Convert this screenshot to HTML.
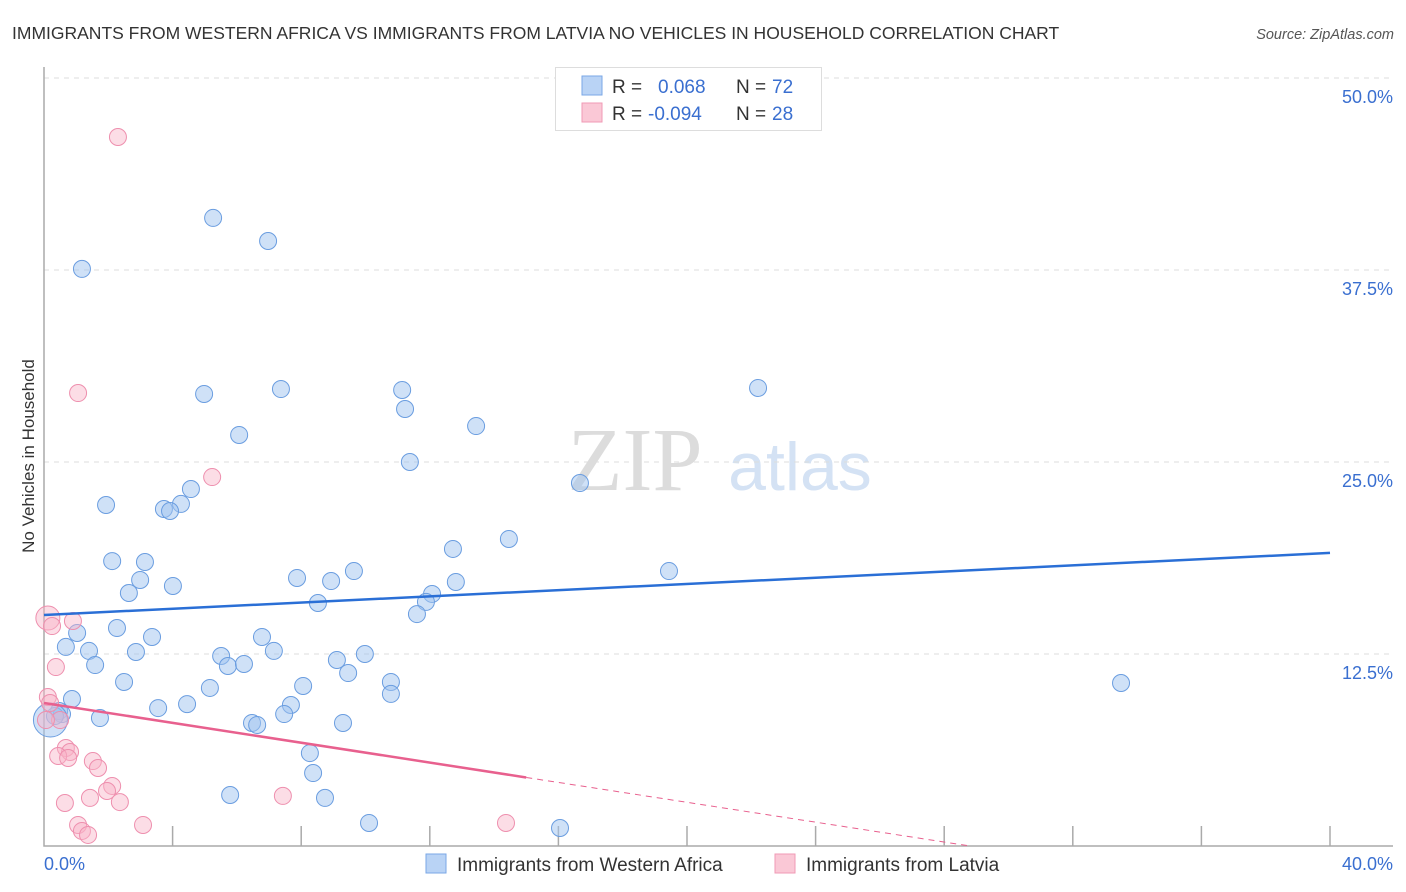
<!DOCTYPE html>
<html><head><meta charset="utf-8"><style>
body{margin:0;background:#fff;font-family:"Liberation Sans",sans-serif}
#wrap{position:relative;width:1406px;height:892px;overflow:hidden}
</style></head><body>
<div id="wrap">
<svg id="svg" width="1406" height="892" xmlns="http://www.w3.org/2000/svg">
<text x="12" y="39" font-size="17.5" fill="#333">IMMIGRANTS FROM WESTERN AFRICA VS IMMIGRANTS FROM LATVIA NO VEHICLES IN HOUSEHOLD CORRELATION CHART</text>
<text x="1394" y="39" font-size="14.5" fill="#555" font-style="italic" text-anchor="end">Source: ZipAtlas.com</text>
<text transform="translate(34,456) rotate(-90)" font-size="17" fill="#333" text-anchor="middle">No Vehicles in Household</text>
<g><text x="635" y="490" font-family="Liberation Serif,serif" font-size="90" fill="#dcdcdc" text-anchor="middle">ZIP</text><text x="800" y="490" font-size="68" fill="#d4e2f4" text-anchor="middle">atlas</text></g>
<g id="grid"></g><g id="axes"></g><g id="marks"></g>
<g>
<rect x="555.5" y="67.5" width="266" height="63" fill="#fff" stroke="#ddd"/>
<rect x="582" y="76" width="20" height="19" fill="#b9d3f5" stroke="#7aa7e6"/>
<rect x="582" y="103" width="20" height="19" fill="#fac8d6" stroke="#f09ab5"/>
<text x="612" y="93" font-size="19" fill="#333">R =</text><text x="658" y="93" font-size="19" fill="#3a6fd0">0.068</text>
<text x="736" y="93" font-size="19" fill="#333">N =</text><text x="772" y="93" font-size="19" fill="#3a6fd0">72</text>
<text x="612" y="120" font-size="19" fill="#333">R =</text><text x="648" y="120" font-size="19" fill="#3a6fd0">-0.094</text>
<text x="736" y="120" font-size="19" fill="#333">N =</text><text x="772" y="120" font-size="19" fill="#3a6fd0">28</text>
</g>
<g>
<rect x="426" y="854" width="20" height="19" fill="#b9d3f5" stroke="#7aa7e6"/>
<text x="457" y="871" font-size="19" fill="#333">Immigrants from Western Africa</text>
<rect x="775" y="854" width="20" height="19" fill="#fac8d6" stroke="#f09ab5"/>
<text x="806" y="871" font-size="19" fill="#333">Immigrants from Latvia</text>
</g>
</svg>
</div>
<script>
const xTicks=[0,4,8,12,16,20,24,28,32,36,40];
const yTicks=[12.5,25,37.5,50];
const yTickLabels=["12.5%","25.0%","37.5%","50.0%"];
const xTickLabels=["0.0%","40.0%"];
const blueX=[1.18,5.26,6.97,4.98,7.37,11.14,11.23,22.21,6.07,13.44,11.38,16.67,1.93,4.57,4.26,3.73,3.92,2.12,3.14,2.99,2.64,4.01,7.87,8.93,9.64,12.72,14.46,12.81,12.07,11.88,8.52,11.6,19.44,1.03,2.27,3.36,6.78,0.68,1.4,2.86,7.15,5.51,5.72,6.22,9.11,9.98,9.46,1.59,2.49,10.79,5.16,8.06,0.87,10.79,33.5,0.47,0.56,0.34,3.55,4.45,7.68,7.47,1.74,6.47,6.63,9.3,8.27,8.37,5.79,8.74,10.11,16.05];
const blueY=[37.57,40.89,39.39,29.43,29.75,29.69,28.45,29.82,26.76,27.34,25.0,23.63,22.2,23.24,22.27,21.94,21.81,18.55,18.49,17.32,16.47,16.93,17.45,17.25,17.9,19.34,19.99,17.19,16.41,15.89,15.82,15.1,17.9,13.87,14.19,13.61,13.61,12.96,12.7,12.63,12.7,12.37,11.72,11.85,12.11,12.5,11.26,11.78,10.68,10.68,10.29,10.42,9.57,9.9,10.61,8.79,8.59,8.46,8.98,9.24,9.18,8.59,8.33,8.01,7.88,8.01,6.05,4.75,3.32,3.13,1.5,1.17];
const pinkX=[2.3,1.06,5.23,0.12,0.25,0.9,0.37,0.12,0.19,0.5,0.68,0.81,0.44,0.75,1.52,1.68,2.12,1.96,1.43,0.65,2.36,7.43,1.06,1.18,1.37,3.08,14.37,0.06];
const pinkY=[46.16,29.49,24.02,14.84,14.32,14.65,11.65,9.7,9.31,8.2,6.38,6.12,5.86,5.73,5.53,5.08,3.91,3.58,3.13,2.8,2.86,3.26,1.37,0.98,0.72,1.37,1.5,8.2];
const blueTrend=[15.04,19.08];
const pinkTrend=[9.31,0];
const NS="http://www.w3.org/2000/svg";
const X0=44,X1=1330,Y0=846,YT=78;
const sx=v=>X0+v/40*(X1-X0);
const sy=v=>Y0-v/50*(Y0-YT);
function mk(tag,attrs,parent){const e=document.createElementNS(NS,tag);for(const k in attrs)e.setAttribute(k,attrs[k]);parent.appendChild(e);return e;}
const grid=document.getElementById('grid'),axes=document.getElementById('axes'),marks=document.getElementById('marks');
yTicks.forEach((t,i)=>{
 const g=mk('line',{x1:X0,x2:1393,y1:sy(t),y2:sy(t),stroke:'#ddd','stroke-dasharray':'5,5'},grid);
 
 
 const l=mk('text',{x:1393,y:sy(t)+25,'font-size':18,fill:'#3a6fd0','text-anchor':'end'},axes);
 l.textContent=yTickLabels[i];
 
 
});
const tl=mk('line',{x1:X0,x2:1393,y1:YT,y2:YT,stroke:'#ddd','stroke-dasharray':'5,5'},grid);


const ax=mk('path',{d:`M${X0},67V${Y0}H1393`,fill:'none',stroke:'#aaa','stroke-width':1.5},axes);


xTicks.forEach(t=>{if(t===0)return;
 const e=mk('line',{x1:sx(t),x2:sx(t),y1:826,y2:Y0,stroke:'#aaa','stroke-width':1.5},axes);
 
 
});
const xl0=mk('text',{x:44,y:870,'font-size':18,fill:'#3a6fd0'},axes);xl0.textContent=xTickLabels[0];


const xl1=mk('text',{x:1393,y:870,'font-size':18,fill:'#3a6fd0','text-anchor':'end'},axes);xl1.textContent=xTickLabels[1];


blueX.forEach((x,i)=>{
 const c=mk('circle',{cx:sx(x),cy:sy(blueY[i]),r:8.5,fill:'rgba(160,196,240,0.5)',stroke:'#6a9de0','stroke-width':1},marks);
 
 
});
const big=mk('circle',{cx:sx(0.2),cy:sy(8.2),r:17,fill:'rgba(160,196,240,0.5)',stroke:'#6a9de0'},marks);


pinkX.forEach((x,i)=>{
 const c=mk('circle',{cx:sx(x),cy:sy(pinkY[i]),r:(i===3?12:8.5),fill:'rgba(248,180,200,0.45)',stroke:'#ee8fae','stroke-width':1},marks);
 
 
});
const bt=mk('line',{x1:sx(0),y1:sy(blueTrend[0]),x2:sx(40),y2:sy(blueTrend[1]),stroke:'#2a6fd6','stroke-width':2.5},marks);


const pEnd=28.8;const pf=x=>pinkTrend[0]+(pinkTrend[1]-pinkTrend[0])*x/pEnd;
const pt=mk('line',{x1:sx(0),y1:sy(pf(0)),x2:sx(15),y2:sy(pf(15)),stroke:'#e8608e','stroke-width':2.5},marks);


const pd=mk('line',{x1:sx(15),y1:sy(pf(15)),x2:sx(pEnd),y2:sy(pf(pEnd)),stroke:'#e8608e','stroke-width':1,'stroke-dasharray':'6,5'},marks);


</script>
</body></html>
